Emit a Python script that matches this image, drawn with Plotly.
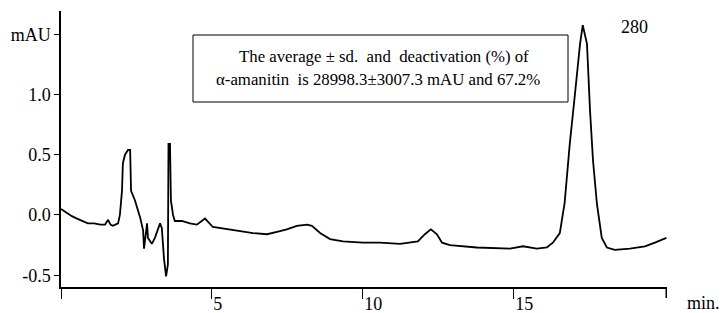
import plotly.graph_objects as go

# Retention time (min) and absorbance (mAU)
time_min = [0.00, 0.18, 0.36, 0.53, 0.70, 0.89, 1.10, 1.30, 1.46, 1.56, 1.64, 1.72, 1.89,
            1.95, 2.02, 2.05, 2.12, 2.22, 2.29, 2.32, 2.45, 2.62, 2.72, 2.75, 2.85, 2.88,
            3.01, 3.11, 3.28, 3.34, 3.41, 3.48, 3.54, 3.56, 3.61, 3.64, 3.71, 3.77, 4.00,
            4.27, 4.50, 4.77, 5.03, 5.26, 5.83, 6.36, 6.82, 7.15, 7.48, 7.81, 8.15, 8.31,
            8.58, 8.91, 9.34, 10.00, 10.56, 11.23, 11.82, 12.05, 12.25, 12.45, 12.62, 12.88,
            13.77, 14.87, 15.30, 15.76, 16.09, 16.29, 16.52, 16.68, 16.85, 17.02, 17.19,
            17.28, 17.42, 17.52, 17.62, 17.75, 17.91, 18.08, 18.34, 18.84, 19.34, 19.67, 20.05]
absorbance = [0.05, 0.02, -0.01, -0.03, -0.05, -0.07, -0.07, -0.08, -0.08, -0.04, -0.08, -0.09, -0.07,
              0.00, 0.20, 0.43, 0.50, 0.54, 0.54, 0.20, 0.12, -0.02, -0.13, -0.28, -0.07, -0.19,
              -0.24, -0.19, -0.07, -0.11, -0.36, -0.51, -0.41, 0.59, 0.59, 0.12, 0.00, -0.05, -0.05,
              -0.07, -0.08, -0.03, -0.10, -0.11, -0.13, -0.15, -0.16, -0.14, -0.12, -0.09, -0.08, -0.09,
              -0.15, -0.20, -0.22, -0.23, -0.23, -0.24, -0.22, -0.16, -0.12, -0.16, -0.23, -0.25,
              -0.27, -0.28, -0.26, -0.28, -0.27, -0.23, -0.15, 0.10, 0.59, 1.00, 1.42,
              1.575, 1.42, 0.87, 0.45, 0.09, -0.19, -0.27, -0.29, -0.28, -0.26, -0.23, -0.19]

y_tick_vals = [-0.5, 0.0, 0.5, 1.0, 1.5]
y_tick_text = ["-0.5", "0.0", "0.5", "1.0", "mAU"]
x_tick_vals = [0, 5, 10, 15]
x_tick_text = ["", "5", "10", "15"]

note_line1 = "The average \u00b1 sd.  and  deactivation (%) of"
note_line2 = "\u03b1-amanitin  is 28998.3\u00b13007.3 mAU and 67.2%"
wavelength = "280"
x_unit = "min."

FONT = "Times New Roman, Liberation Serif, DejaVu Serif, serif"
PW, PH = 606, 276  # plot area size in px (x: 61..667, y: 11..287)

fig = go.Figure()
fig.add_trace(go.Scatter(x=time_min, y=absorbance, mode="lines",
                         line=dict(color="black", width=1.8), hoverinfo="skip"))

fig.update_layout(
    width=726, height=313,
    margin=dict(l=61, r=59, t=11, b=26, autoexpand=False),
    paper_bgcolor="white", plot_bgcolor="white",
    showlegend=False,
    font=dict(family=FONT, size=18, color="black"),
    xaxis=dict(range=[0, 20.07], showgrid=False, zeroline=False, automargin=False,
               showline=True, linecolor="black", linewidth=1.5,
               ticks="outside", ticklen=10, tickwidth=1, tickcolor="black",
               tickvals=x_tick_vals, ticktext=x_tick_text,
               ticklabelposition="outside right",
               tickfont=dict(family=FONT, size=18)),
    yaxis=dict(range=[-0.598, 1.693], showgrid=False, zeroline=False, automargin=False,
               showline=True, linecolor="black", linewidth=1.5,
               ticks="outside", ticklen=5, tickwidth=1, tickcolor="black",
               tickvals=y_tick_vals, ticktext=y_tick_text,
               tickfont=dict(family=FONT, size=18)),
)

# thick end tick on x-axis
fig.add_shape(type="line", xref="x", yref="paper", x0=20.07, x1=20.07, y0=0, y1=-0.04,
              line=dict(color="black", width=3))

# annotation box
fig.add_shape(type="rect", xref="paper", yref="paper",
              x0=(193 - 61) / PW, x1=(568 - 61) / PW,
              y0=(287 - 102) / PH, y1=(287 - 35) / PH,
              line=dict(color="black", width=1), fillcolor="rgba(0,0,0,0)")
fig.add_annotation(xref="paper", yref="paper", x=(384 - 61) / PW, y=(287 - 57) / PH,
                   text=note_line1, showarrow=False, xanchor="center", yanchor="middle",
                   font=dict(family=FONT, size=16.8))
fig.add_annotation(xref="paper", yref="paper", x=(378 - 61) / PW, y=(287 - 79) / PH,
                   text=note_line2, showarrow=False, xanchor="center", yanchor="middle",
                   font=dict(family=FONT, size=16.8))
fig.add_annotation(xref="paper", yref="paper", x=(634 - 61) / PW, y=(287 - 27) / PH,
                   text=wavelength, showarrow=False, xanchor="center", yanchor="middle",
                   font=dict(family=FONT, size=18))
fig.add_annotation(xref="paper", yref="paper", x=(703 - 61) / PW, y=(287 - 303) / PH,
                   text=x_unit, showarrow=False, xanchor="center", yanchor="middle",
                   font=dict(family=FONT, size=18))

fig.write_html("out.html", config={"displayModeBar": False})

# remove the browser's default page margin so the figure sits at the window's corner
with open("out.html", encoding="utf-8") as f:
    html = f.read()
html = html.replace("<head>", "<head><style>html,body{margin:0;padding:0;}</style>", 1)
with open("out.html", "w", encoding="utf-8") as f:
    f.write(html)
